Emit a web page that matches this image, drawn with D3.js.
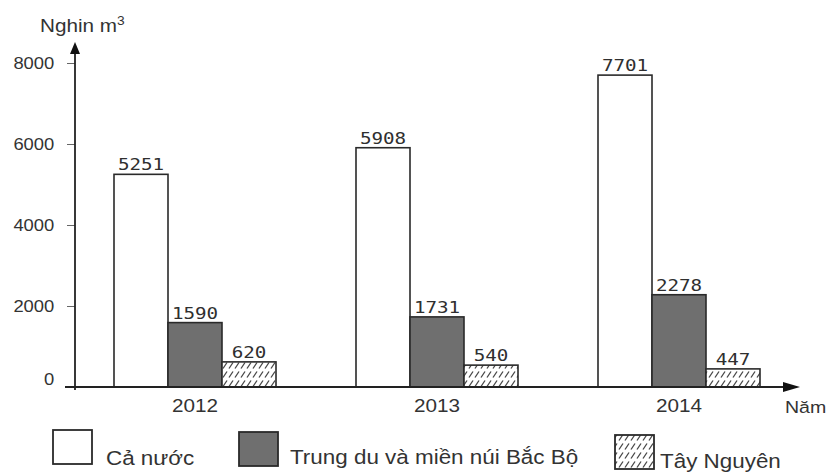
<!DOCTYPE html>
<html><head><meta charset="utf-8">
<script src="https://cdn.jsdelivr.net/npm/d3@7"></script>
<style>body{margin:0;background:#fff}</style>
</head><body><svg id="c" width="835" height="473"></svg>
<script>
const years = ["2012", "2013", "2014"];
const seriesNames = ["Cả nước", "Trung du và miền núi Bắc Bộ", "Tây Nguyên"];
const caNuoc = [5251, 5908, 7701];
const trungDu = [1590, 1731, 2278];
const tayNguyen = [620, 540, 447];
const yTicks = [0, 2000, 4000, 6000, 8000];
const yTitle = "Nghin m";
const xTitle = "Năm";

const seriesValues = [caNuoc, trungDu, tayNguyen];
const SX = 1.15; // horizontal stretch of the reference text
const ink = "#333";

const svg = d3.select("#c");
const defs = svg.append("defs");
const pat = defs.append("pattern").attr("id", "hatch").attr("patternUnits", "userSpaceOnUse")
  .attr("width", 6).attr("height", 9).attr("y", 1);
pat.append("rect").attr("width", 6).attr("height", 9).attr("fill", "#fff");
pat.append("line").attr("x1", 1).attr("y1", 7.5).attr("x2", 5).attr("y2", 1.5)
  .attr("stroke", "#444").attr("stroke-width", 1.3);
const fills = ["#ffffff", "#6f6f6f", "url(#hatch)"];

const y = d3.scaleLinear().domain([0, 8000]).range([387, 63]);
const xg = d3.scalePoint().domain(years).range([195, 679]);
const xs = d3.scaleBand().domain(seriesNames).range([-81, 81]).padding(0);

function stext(g, x, yy, str, size, anchor, family, sx) {
  return g.append("text")
    .attr("transform", `translate(${x},${yy}) scale(${sx || SX},1)`)
    .attr("text-anchor", anchor || "start")
    .attr("font-family", family || "'Liberation Sans', Arial, sans-serif")
    .attr("font-size", size).attr("fill", ink).text(str);
}

// bars
const data = [];
years.forEach((yr, i) => seriesNames.forEach((s, j) => data.push({yr, s, j, v: seriesValues[j][i]})));
svg.append("g").selectAll("rect").data(data).join("rect")
  .attr("x", d => xg(d.yr) + xs(d.s))
  .attr("y", d => y(d.v))
  .attr("width", xs.bandwidth())
  .attr("height", d => y(0) - y(d.v))
  .attr("fill", d => fills[d.j])
  .attr("stroke", "#2a2a2a").attr("stroke-width", 1.6);

// value labels
const lg = svg.append("g");
data.forEach(d => {
  stext(lg, xg(d.yr) + xs(d.s) + xs.bandwidth() / 2, y(d.v) - 4, d.v, 16, "middle",
    "'DejaVu Sans Mono', monospace", 1.2).attr("fill", "#2f2f2f");
});

// y axis
const ya = svg.append("g").attr("transform", "translate(75,0)")
  .call(d3.axisLeft(y).tickValues(yTicks).tickFormat(d3.format("d")).tickSize(8).tickPadding(10));
ya.select(".domain").remove();
ya.selectAll(".tick line").attr("stroke", "#666");
ya.selectAll(".tick text")
  .attr("font-family", "'Liberation Sans', Arial, sans-serif")
  .attr("font-size", 16).attr("fill", ink)
  .attr("transform", d => d === 0 ? `translate(0,-8) scale(${SX},1)` : `scale(${SX},1)`);

// axes lines with arrows
svg.append("line").attr("x1", 75).attr("y1", 390).attr("x2", 75).attr("y2", 50)
  .attr("stroke", "#222").attr("stroke-width", 1.8);
svg.append("path").attr("d", "M70,54 L80,54 L75,42 Z").attr("fill", "#111");
svg.append("line").attr("x1", 65).attr("y1", 387).attr("x2", 788).attr("y2", 387)
  .attr("stroke", "#222").attr("stroke-width", 1.8);
svg.append("path").attr("d", "M783,382 L783,392 L800,387 Z").attr("fill", "#111");

// axis titles
const t = stext(svg, 40, 32, yTitle, 18);
t.append("tspan").attr("dy", -7).attr("font-size", 12).text("3");
stext(svg, 785, 413, xTitle, 17);

// year labels
years.forEach(yr => stext(svg, xg(yr), 412, yr, 18, "middle"));

// legend
const legBoxX = [53, 239, 615], legBoxY = [430, 432, 435];
const legTextX = [106, 290, 660], legTextY = [465, 464, 468];
seriesNames.forEach((s, j) => {
  svg.append("rect").attr("x", legBoxX[j]).attr("y", legBoxY[j]).attr("width", 39).attr("height", 34)
    .attr("fill", fills[j]).attr("stroke", "#2a2a2a").attr("stroke-width", 1.8);
  stext(svg, legTextX[j], legTextY[j], s, 19.5);
});
</script>
</body></html>
